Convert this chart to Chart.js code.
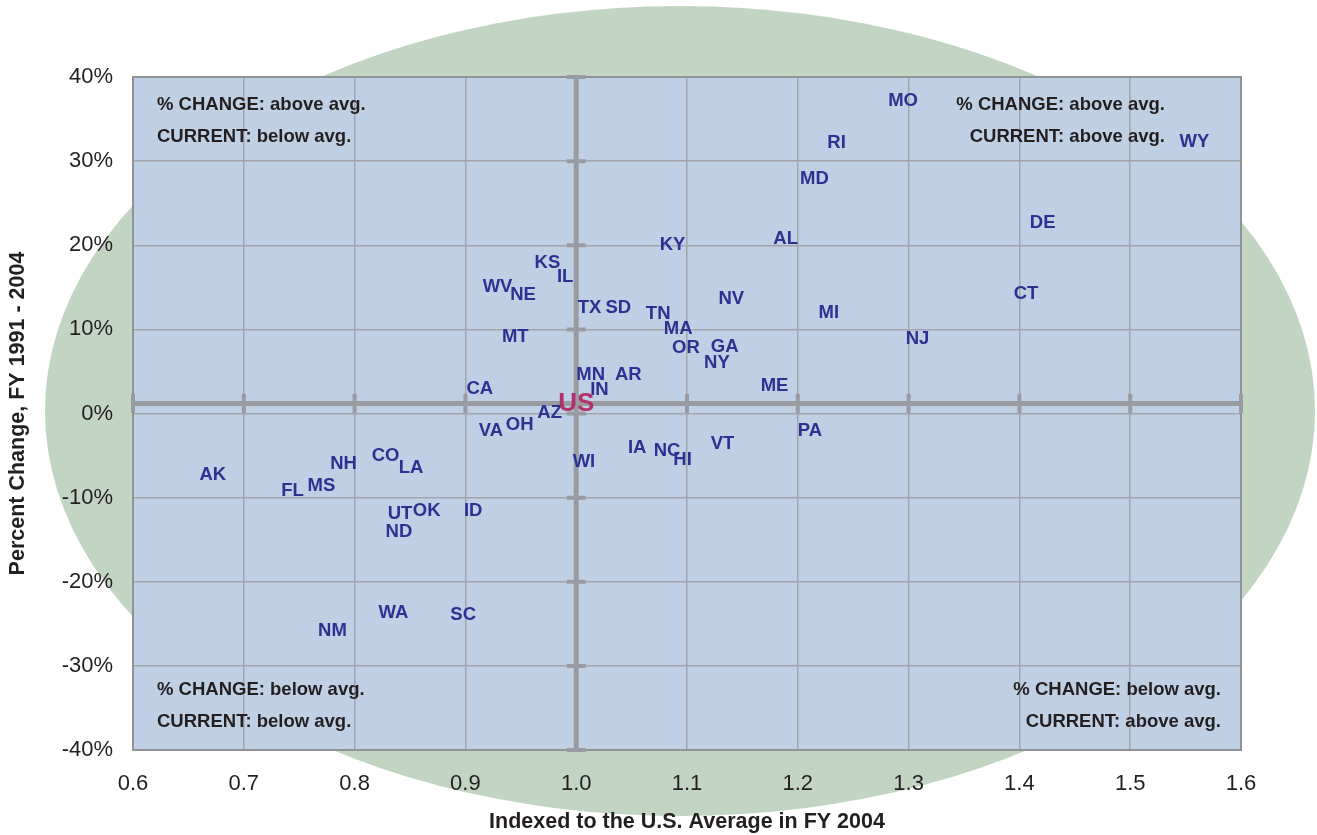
<!DOCTYPE html>
<html>
<head>
<meta charset="utf-8">
<title>Percent Change vs. Index to U.S. Average</title>
<script src="https://cdn.jsdelivr.net/npm/chart.js@4.4.1/dist/chart.umd.min.js"></script>
<style>
  html, body { margin: 0; padding: 0; background: #ffffff; }
  #wrap { width: 1317px; height: 835px; position: relative; }
</style>
</head>
<body>
<div id="wrap"><canvas id="chart" width="1317" height="835"></canvas></div>
<script>
// State codes, FY 2004 index to US average (x) and % change FY 1991-2004 (y)
const stateCodes = [
  "MO", "RI", "WY", "MD", "DE", "AL", "KY", "KS", "IL", "WV",
  "NE", "CT", "NV", "TX", "SD", "MI", "TN", "MA", "MT", "NJ",
  "OR", "GA", "NY", "MN", "AR", "ME", "CA", "IN", "AZ", "OH",
  "VA", "PA", "VT", "IA", "NC", "HI", "WI", "CO", "NH", "LA",
  "AK", "MS", "FL", "UT", "OK", "ID", "ND", "WA", "SC", "NM"
];
const indexValues = [
  1.295, 1.235, 1.558, 1.215, 1.421, 1.189, 1.087, 0.974, 0.990, 0.929,
  0.952, 1.406, 1.140, 1.012, 1.038, 1.228, 1.074, 1.092, 0.945, 1.308,
  1.099, 1.134, 1.127, 1.013, 1.047, 1.179, 0.913, 1.021, 0.976, 0.949,
  0.923, 1.211, 1.132, 1.055, 1.082, 1.096, 1.007, 0.828, 0.790, 0.851,
  0.672, 0.770, 0.744, 0.841, 0.865, 0.907, 0.840, 0.835, 0.898, 0.780
];
const changeValues = [
  37.2, 32.2, 32.3, 27.9, 22.6, 20.8, 20.1, 17.9, 16.2, 15.1,
  14.1, 14.2, 13.6, 12.5, 12.5, 12.0, 11.8, 10.0, 9.1, 8.9,
  7.8, 7.9, 6.0, 4.6, 4.6, 3.3, 2.9, 2.8, 0.1, -1.4,
  -2.1, -2.1, -3.6, -4.1, -4.5, -5.5, -5.8, -5.0, -6.0, -6.5,
  -7.3, -8.6, -9.2, -11.9, -11.6, -11.6, -14.1, -23.7, -24.0, -25.9
];

// US average point (crossing of the two thick axes)
const usLabel = ["US"];
const usIndex = [1.0];
const usChange = [1.2];

// Axis ticks
const xTicks = [0.6, 0.7, 0.8, 0.9, 1.0, 1.1, 1.2, 1.3, 1.4, 1.5, 1.6];
const yTicks = [-40, -30, -20, -10, 0, 10, 20, 30, 40];

// Quadrant notes
const quadrantNotes = [
  { lines: ["% CHANGE: above avg.", "CURRENT: below avg."], corner: "topLeft" },
  { lines: ["% CHANGE: above avg.", "CURRENT: above avg."], corner: "topRight" },
  { lines: ["% CHANGE: below avg.", "CURRENT: below avg."], corner: "bottomLeft" },
  { lines: ["% CHANGE: below avg.", "CURRENT: above avg."], corner: "bottomRight" }
];

const stateColor = "#2e3192";
const usColor = "#b3326b";
const textColor = "#231f20";
const gridColor = "#a2a6ac";
const axisColor = "#989ca2";
const plotColor = "#bfcfe4";
const ovalColor = "#c2d5c2";

// Background oval and plot fill
const backgroundPlugin = {
  id: "backgroundOval",
  beforeDraw(chart) {
    const { ctx, width, height, chartArea } = chart;
    ctx.save();
    ctx.fillStyle = "#ffffff";
    ctx.fillRect(0, 0, width, height);
    ctx.fillStyle = ovalColor;
    ctx.beginPath();
    ctx.ellipse(680, 411, 635, 405, 0, 0, Math.PI * 2);
    ctx.fill();
    ctx.fillStyle = plotColor;
    ctx.fillRect(chartArea.left, chartArea.top, chartArea.right - chartArea.left, chartArea.bottom - chartArea.top);
    ctx.restore();
  }
};

// Thick crossing axes through the US average, with cross tick marks
const crossAxesPlugin = {
  id: "crossAxes",
  beforeDatasetsDraw(chart) {
    const { ctx, chartArea, scales } = chart;
    const x = scales.x;
    const y = scales.y;
    const cx = x.getPixelForValue(usIndex[0]);
    const cy = y.getPixelForValue(usChange[0]);
    ctx.save();

    // plot border
    ctx.strokeStyle = "#8f9398";
    ctx.lineWidth = 2;
    ctx.strokeRect(chartArea.left, chartArea.top, chartArea.right - chartArea.left, chartArea.bottom - chartArea.top);

    ctx.strokeStyle = axisColor;
    ctx.lineWidth = 5;
    ctx.beginPath();
    ctx.moveTo(chartArea.left, cy);
    ctx.lineTo(chartArea.right, cy);
    ctx.moveTo(cx, chartArea.top);
    ctx.lineTo(cx, chartArea.bottom);
    ctx.stroke();

    ctx.lineWidth = 4;
    ctx.beginPath();
    xTicks.forEach((v) => {
      const px = x.getPixelForValue(v);
      ctx.moveTo(px, cy - 9.5);
      ctx.lineTo(px, cy + 9.5);
    });
    yTicks.forEach((v) => {
      const py = y.getPixelForValue(v);
      ctx.moveTo(cx - 9.5, py);
      ctx.lineTo(cx + 9.5, py);
    });
    ctx.stroke();
    ctx.restore();
  }
};

// State labels drawn at each point, plus the quadrant notes
const labelPlugin = {
  id: "pointLabels",
  afterDatasetsDraw(chart) {
    const { ctx, chartArea } = chart;
    ctx.save();
    ctx.textAlign = "center";
    ctx.textBaseline = "middle";

    chart.data.datasets.forEach((ds, i) => {
      const meta = chart.getDatasetMeta(i);
      ctx.fillStyle = ds.labelColor;
      ctx.font = ds.labelFont;
      meta.data.forEach((pt, j) => {
        ctx.fillText(ds.labels[j], pt.x, pt.y);
      });
    });

    ctx.fillStyle = textColor;
    ctx.font = 'bold 18.5px "Liberation Sans", Arial, sans-serif';
    quadrantNotes.forEach((note) => {
      let tx, ty;
      if (note.corner === "topLeft") {
        ctx.textAlign = "left";
        tx = chartArea.left + 24;
        ty = chartArea.top + 27.5;
      } else if (note.corner === "topRight") {
        ctx.textAlign = "right";
        tx = chartArea.right - 76;
        ty = chartArea.top + 27.5;
      } else if (note.corner === "bottomLeft") {
        ctx.textAlign = "left";
        tx = chartArea.left + 24;
        ty = chartArea.bottom - 60;
      } else {
        ctx.textAlign = "right";
        tx = chartArea.right - 20;
        ty = chartArea.bottom - 60;
      }
      note.lines.forEach((line, k) => {
        ctx.fillText(line, tx, ty + k * 32);
      });
    });
    ctx.restore();
  }
};

function makePoints(xs, ys) {
  return xs.map((v, i) => ({ x: v, y: ys[i] }));
}

const ctx = document.getElementById("chart").getContext("2d");

new Chart(ctx, {
  type: "scatter",
  data: {
    datasets: [
      {
        label: "States",
        data: makePoints(indexValues, changeValues),
        labels: stateCodes,
        labelColor: stateColor,
        labelFont: 'bold 18.5px "Liberation Sans", Arial, sans-serif',
        pointRadius: 0,
        pointHoverRadius: 0
      },
      {
        label: "US",
        data: makePoints(usIndex, usChange),
        labels: usLabel,
        labelColor: usColor,
        labelFont: 'bold 26px "Liberation Sans", Arial, sans-serif',
        pointRadius: 0,
        pointHoverRadius: 0
      }
    ]
  },
  options: {
    responsive: false,
    animation: false,
    events: [],
    layout: {
      padding: { top: 77, right: 76, left: 0, bottom: 0 }
    },
    plugins: {
      legend: { display: false },
      tooltip: { enabled: false }
    },
    scales: {
      x: {
        type: "linear",
        min: 0.6,
        max: 1.6,
        afterFit: (scale) => { scale.height = 85; },
        afterBuildTicks: (scale) => { scale.ticks = xTicks.map((v) => ({ value: v })); },
        grid: { color: gridColor, lineWidth: 1.5, drawTicks: false },
        border: { display: false },
        ticks: {
          padding: 21,
          color: textColor,
          font: { family: '"Liberation Sans", Arial, sans-serif', size: 22 },
          callback: (v) => Number(v).toFixed(1)
        },
        title: {
          display: true,
          text: "Indexed to the U.S. Average in FY 2004",
          color: textColor,
          font: { family: '"Liberation Sans", Arial, sans-serif', size: 21.5, weight: "bold" },
          padding: { top: 0, bottom: 0 }
        }
      },
      y: {
        type: "linear",
        min: -40,
        max: 40,
        afterFit: (scale) => { scale.width = 133; },
        afterBuildTicks: (scale) => { scale.ticks = yTicks.map((v) => ({ value: v })); },
        grid: { color: gridColor, lineWidth: 1.5, drawTicks: false },
        border: { display: false },
        ticks: {
          padding: 20,
          color: textColor,
          font: { family: '"Liberation Sans", Arial, sans-serif', size: 22 },
          callback: (v) => v + "%"
        },
        title: {
          display: true,
          text: "Percent Change, FY 1991 - 2004",
          color: textColor,
          font: { family: '"Liberation Sans", Arial, sans-serif', size: 21.5, weight: "bold" },
          padding: { top: 5, bottom: 0 }
        }
      }
    }
  },
  plugins: [backgroundPlugin, crossAxesPlugin, labelPlugin]
});
</script>
</body>
</html>
